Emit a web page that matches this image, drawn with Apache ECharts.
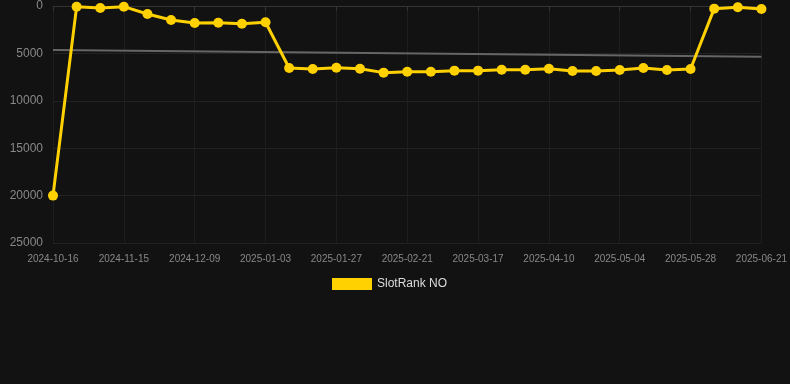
<!DOCTYPE html>
<html><head><meta charset="utf-8">
<script src="https://cdn.jsdelivr.net/npm/echarts@6/dist/echarts.min.js"></script>
<style>html,body{margin:0;padding:0;background:#121212;}#c{width:790px;height:384px;}</style>
</head><body><div id="c"></div>
<script>
const categories = ["2024-10-16","2024-10-26","2024-11-05","2024-11-15","2024-11-23","2024-12-01","2024-12-09","2024-12-17","2024-12-25","2025-01-03","2025-01-11","2025-01-19","2025-01-27","2025-02-04","2025-02-12","2025-02-21","2025-03-01","2025-03-09","2025-03-17","2025-03-25","2025-04-02","2025-04-10","2025-04-18","2025-04-26","2025-05-04","2025-05-12","2025-05-20","2025-05-28","2025-06-05","2025-06-13","2025-06-21"];
const rankValues = [20000,70,210,70,840,1480,1790,1760,1870,1720,6540,6650,6510,6610,7030,6930,6930,6820,6820,6720,6720,6610,6860,6860,6750,6540,6750,6650,280,140,320];
const trendStart = 4640;
const trendEnd = 5360;
const yTicks = [0,5000,10000,15000,20000,25000];
const seriesName = "SlotRank NO";

const trendValues = categories.map((c,i)=> i===0 ? trendStart : (i===categories.length-1 ? trendEnd : null));

const chart = echarts.init(document.getElementById('c'));
chart.setOption({
  backgroundColor:'#121212',
  animation:false,
  grid:{left:53,right:28,top:6,bottom:141},
  legend:{
    data:[seriesName],
    top:273,left:327,
    itemWidth:40,itemHeight:12,
    icon:'rect',
    textStyle:{color:'#dddddd',fontSize:12,fontFamily:'Liberation Sans, Arial, sans-serif'}
  },
  xAxis:{
    type:'category',data:categories,boundaryGap:false,
    axisLine:{show:true,lineStyle:{color:'#333333'}},
    axisTick:{show:true,interval:2,alignWithLabel:true,lineStyle:{color:'#333333'}},
    axisLabel:{interval:2,color:'#888888',fontSize:10,margin:11,fontFamily:'Liberation Sans, Arial, sans-serif'},
    splitLine:{show:true,interval:2,lineStyle:{color:'#1e1e1e'}}
  },
  yAxis:{
    type:'value',inverse:true,min:yTicks[0],max:yTicks[yTicks.length-1],interval:5000,
    axisLine:{show:false},axisTick:{show:false},
    axisLabel:{color:'#888888',fontSize:12,margin:10,formatter:(v)=>String(v),fontFamily:'Liberation Sans, Arial, sans-serif'},
    splitLine:{show:true,lineStyle:{color:'#222222'}}
  },
  series:[
    {name:'trend',type:'line',data:trendValues,connectNulls:true,symbol:'none',
     lineStyle:{color:'#666666',width:2},itemStyle:{color:'#666666'},z:1,silent:true},
    {name:seriesName,type:'line',data:rankValues,symbol:'circle',symbolSize:10,
     lineStyle:{color:'#FFD100',width:3},itemStyle:{color:'#FFD100'},z:3}
  ]
});
</script></body></html>
